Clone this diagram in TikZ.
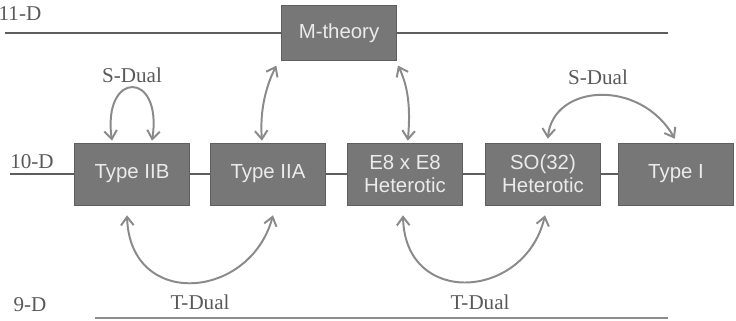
\documentclass[tikz,border=0pt]{standalone}
\usepackage{fontspec}
\setmainfont{Liberation Serif}
\newfontfamily\boxfont{Liberation Sans}
\usetikzlibrary{arrows.meta}
\definecolor{boxgray}{HTML}{777777}
\definecolor{boxtext}{HTML}{EBEBEB}
\definecolor{dualgray}{HTML}{8A8A8A}
\definecolor{levelgray}{HTML}{5E5E5E}

\begin{document}
\begin{tikzpicture}[x=0.025cm,y=-0.025cm,>={Straight Barb[length=6pt,width=9pt]},
	every text node part/.style={align=center},
	theory/.style={fill=boxgray,draw=boxgray!80!black,text=boxtext,font=\boxfont\fontsize{14.5}{16.5}\selectfont,minimum width=2.875cm,minimum height=1.55cm,inner sep=0pt},
	dual/.style={draw=dualgray,line width=1.4pt,<->},
	level/.style={draw=levelgray,line width=1pt},
	lbl/.style={text=black!65,font=\fontsize{15}{17}\selectfont,inner sep=0pt}]

\useasboundingbox (0,0) rectangle (736,321);

%%%%%%%%%%%%%%%%%%%%%%%%%%%%%%%%%%%%%%

\node[lbl] (elevD) at (20,14) {11-D};
\coordinate (elevleft) at (5,33);
\coordinate (elevright) at (668,33);
\node[theory,minimum height=1.375cm] (mth) at (339,33) {M-theory};
\draw[level,line width=1.4pt] (elevleft) -- (mth) -- (elevright);

%%%%%%%%%%%%%%%%%%%%%%%%%%%%%%%%%%%%%%

\node[lbl] (tenD) at (32,162) {10-D};
\coordinate (tenleft) at (10,174);

\node[theory] (iib) at (132,174) {Type IIB};
\node[theory] (iia) at (268,174) {Type IIA};
\node[theory] (e8) at (405,174) {E8 x E8\\Heterotic};
\node[theory] (so) at (543,174) {SO(32)\\Heterotic};
\node[theory] (typei) at (676,174) {Type I};

\draw[level] (tenleft) -- (iib) -- (iia) -- (e8) -- (so) -- (typei);

%%%%%%%%%%%%%%%%%%%%%%%%%%%%%%%%%%%%%%

\node[lbl] (nineD) at (30,305) {9-D};
\coordinate (nineleft) at (95,318);
\coordinate (nineright) at (668,318);
\draw[level,draw=black!45] (nineleft) -- (nineright);

%%%%%%%%%%%%%%%%%%%%%%%%%%%%%%%%%%%%%%

% S-duality
\node[lbl] (sdualb) at (132,75) {S-Dual};
\draw[dual] ([xshift=-0.5cm,yshift=0.05cm]iib.north) .. controls (102,70) and (163,70) .. ([xshift=0.5cm,yshift=0.05cm]iib.north);

\node[lbl] (sdualso) at (598,77) {S-Dual};
\draw[dual] ([xshift=0.12cm,yshift=0.1cm]so.north) .. controls (553,84) and (640,78) .. ([xshift=-0.03cm,yshift=0.1cm]typei.north);

% M-theory limits
\draw[dual] ([xshift=-0.12cm,yshift=-0.12cm]mth.south west) .. controls (264,90) and (260,115) .. ([xshift=-0.15cm,yshift=0.05cm]iia.north);
\draw[dual] ([xshift=0.03cm,yshift=-0.12cm]mth.south east) .. controls (410,90) and (410,115) .. ([xshift=0.07cm,yshift=0.05cm]e8.north);

% T-duality
\node[lbl] (tdualii) at (200,302) {T-Dual};
\draw[dual] ([xshift=-0.125cm,yshift=-0.25cm]iib.south) .. controls (130,310) and (250,300) .. ([xshift=0.125cm,yshift=-0.25cm]iia.south);

\node[lbl] (tdualhet) at (480,302) {T-Dual};
\draw[dual] ([xshift=-0.05cm,yshift=-0.25cm]e8.south) .. controls (405,308) and (525,300) .. ([xshift=0.05cm,yshift=-0.25cm]so.south);

\end{tikzpicture}
\end{document}
